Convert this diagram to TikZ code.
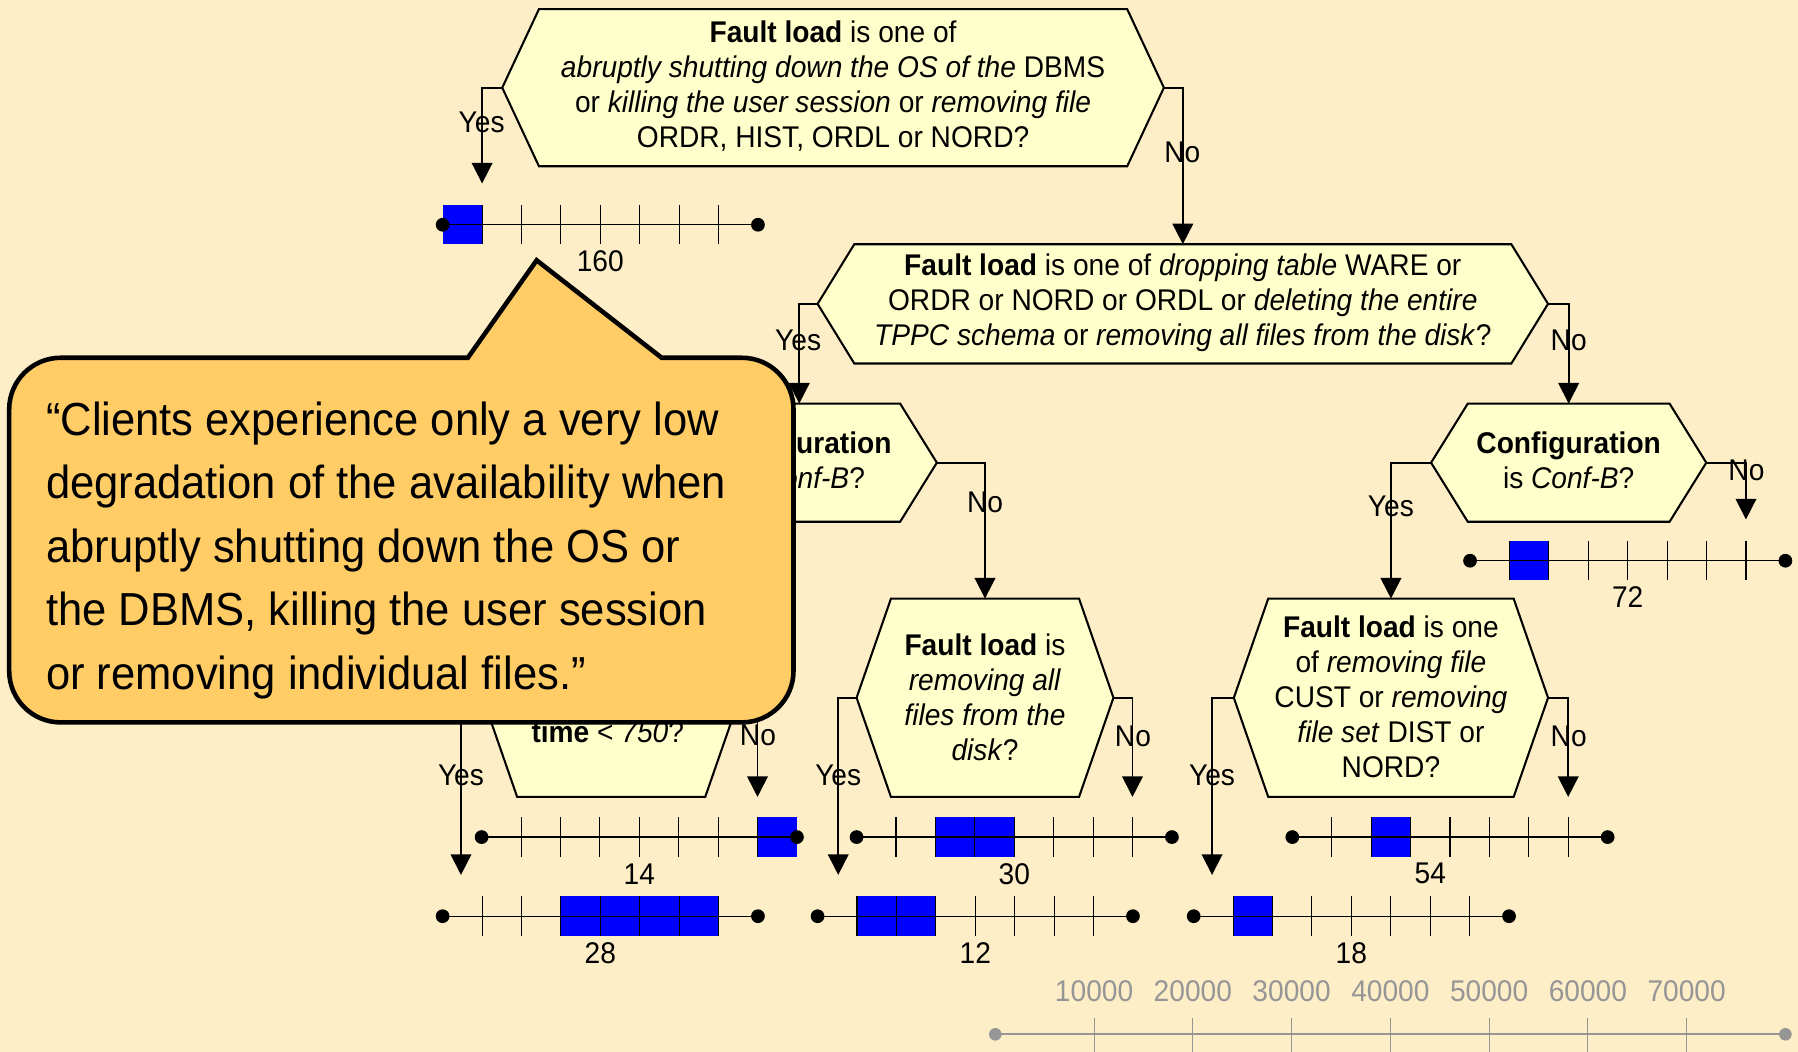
\documentclass[tikz,border=0pt]{standalone}
\usepackage{fontspec}
\setmainfont{Liberation Sans}[FakeStretch=0.94]
\usetikzlibrary{arrows.meta}

\definecolor{paper}{RGB}{254,238,200}
\definecolor{hexfill}{RGB}{255,255,204}
\definecolor{notefill}{RGB}{255,204,102}
\definecolor{barblue}{RGB}{0,0,255}
\definecolor{axisgray}{RGB}{150,150,150}

\tikzset{
  hexline/.style={draw=black, fill=hexfill, line width=1.8pt, line join=miter},
  qtext/.style={align=center, inner sep=0pt, font=\fontsize{26.1}{30.5}\selectfont},
  lbl/.style={inner sep=0pt, font=\fontsize{26.1}{30.5}\selectfont},
  conn/.style={line width=1.6pt, -{Triangle[width=18pt,length=18pt]}},
  barline/.style={line width=1.1pt, black},
  bartick/.style={line width=0.9pt, black},
  axisline/.style={line width=1.5pt, axisgray},
  axistick/.style={line width=0.9pt, axisgray},
  axislbl/.style={inner sep=0pt, text=axisgray, font=\fontsize{26.1}{30.5}\selectfont},
  note/.style={draw=black, fill=notefill, line width=4pt, line join=miter},
  notetext/.style={align=left, inner sep=0pt, font=\fontsize{40.4}{55.3}\selectfont}
}

\def\seg{34.375}

% hexagonal decision box: name, cx, cy, half width (tip), half height, inset
\newcommand\hexshape[6]{%
  \draw[hexline] (#2-#4,#3) -- (#2-#4+#6,#3-#5) -- (#2+#4-#6,#3-#5)
    -- (#2+#4,#3) -- (#2+#4-#6,#3+#5) -- (#2-#4+#6,#3+#5) -- cycle;
  \coordinate (#1-w) at (#2-#4,#3);
  \coordinate (#1-e) at (#2+#4,#3);
  \coordinate (#1-n) at (#2,#3-#5);
}

% scale bar: name, x0, y, blue cells, label, label cell position
\newcommand\scalebar[6]{%
  \begin{scope}[shift={(#2,#3)}]
    \foreach \c in {#4} \fill[barblue] (\c*\seg,-\seg/2) rectangle ++(\seg,\seg);
    \draw[barline] (0,0) -- (8*\seg,0);
    \foreach \k in {1,...,7} \draw[bartick] (\k*\seg,-\seg/2) -- (\k*\seg,\seg/2);
    \fill (0,0) circle (6pt) (8*\seg,0) circle (6pt);
    \node[lbl] (#1) at (#6*\seg,32) {#5};
  \end{scope}}

\begin{document}
\begin{tikzpicture}[x=1pt, y=-1pt]
\useasboundingbox (0,0) rectangle (1568,917);
\fill[paper] (0,0) rectangle (1568,917);

% decision boxes
\hexshape{h1}{726.5}{76.5}{288.5}{68.5}{32}
\hexshape{h2}{1031.5}{265}{318.5}{52}{32}
\hexshape{h3}{697}{403.5}{120}{51.5}{32}
\hexshape{h4}{1368}{403.5}{120}{51.5}{32}
\hexshape{h5}{859}{608.5}{112}{86.5}{30}
\hexshape{h6}{533}{608.5}{112}{86.5}{30}
\hexshape{h7}{1213}{608.5}{137}{86.5}{30}

\node[qtext] (q1) at (726.5,75) {\textbf{Fault load} is one of\\
  \textit{abruptly shutting down the OS of the} DBMS\\
  or \textit{killing the user session} or \textit{removing file}\\
  ORDR, HIST, ORDL or NORD?};
\node[qtext] (q2) at (1031.5,264) {\textbf{Fault load} is one of \textit{dropping table} WARE or\\
  ORDR or NORD or ORDL or \textit{deleting the entire}\\
  \textit{TPPC schema} or \textit{removing all files from the disk}?};
\node[qtext] (q3) at (697,401) {\textbf{Configuration}\\is \textit{Conf-B}?};
\node[qtext] (q4) at (1368,401) {\textbf{Configuration}\\is \textit{Conf-B}?};
\node[qtext] (q5) at (859,608) {\textbf{Fault load} is\\\textit{removing all}\\\textit{files from the}\\\textit{disk}?};
\node[qtext] (q6) at (530,638) {\textbf{time} < \textit{750}?};
\node[qtext] (q7) at (1213,608) {\textbf{Fault load} is one\\of \textit{removing file}\\CUST or \textit{removing}\\\textit{file set} DIST or\\NORD?};

% scale bars
\scalebar{n160}{386}{196}{0}{160}{4}
\scalebar{n72}{1282}{489}{1}{72}{4}
\scalebar{n14}{420}{730}{7}{14}{4}
\scalebar{n30}{747}{730}{2,3}{30}{4}
\scalebar{n54}{1127}{730}{2}{54}{3.5}
\scalebar{n28}{386}{799}{3,4,5,6}{28}{4}
\scalebar{n12}{713}{799}{1,2}{12}{4}
\scalebar{n18}{1041}{799}{1}{18}{4}

% arrow targets above the scale bars
\coordinate (t160) at (420.4,160);
\coordinate (t72) at (1522.6,453);
\coordinate (t14) at (660.6,695);
\coordinate (t30) at (987.6,695);
\coordinate (t54) at (1367.6,695);
\coordinate (t28) at (402,763);
\coordinate (t12) at (731,763);
\coordinate (t18) at (1057,763);

% branches
\draw[conn] (h1-w) -| (t160);
\draw[conn] (h1-e) -| (h2-n);
\draw[conn] (h2-w) -| (h3-n);
\draw[conn] (h2-e) -| (h4-n);
\draw[conn] (h3-w) -| (h6-n);
\draw[conn] (h3-e) -| (h5-n);
\draw[conn] (h4-w) -| (h7-n);
\draw[conn] (h4-e) -| (t72);
\draw[conn] (h5-w) -| (t12);
\draw[conn] (h5-e) -| (t30);
\draw[conn] (h6-w) -| (t28);
\draw[conn] (h6-e) -| (t14);
\draw[conn] (h7-w) -| (t18);
\draw[conn] (h7-e) -| (t54);

\node[lbl] (y1) at (420,107) {Yes};
\node[lbl] (n1) at (1031,133) {No};
\node[lbl] (y2) at (696,297) {Yes};
\node[lbl] (n2) at (1368,297) {No};
\node[lbl] (n3) at (859,438) {No};
\node[lbl] (y4) at (1213,442) {Yes};
\node[lbl] (n4) at (1523,410) {No};
\node[lbl] (y5) at (731,676) {Yes};
\node[lbl] (n5) at (988,642) {No};
\node[lbl] (y6) at (402,676) {Yes};
\node[lbl] (n6) at (661,641) {No};
\node[lbl] (y7) at (1057,676) {Yes};
\node[lbl] (n7) at (1368,642) {No};

% time axis
\draw[axisline] (868,902) -- (1557,902);
\fill[axisgray] (868,902) circle (5.5pt) (1557,902) circle (5.5pt);
\foreach \k/\v in {1/10000,2/20000,3/30000,4/40000,5/50000,6/60000,7/70000} {
  \draw[axistick] (868+\k*86.125,888) -- (868+\k*86.125,917);
  \node[axislbl] (ax\k) at (868+\k*86.125,864) {\v};
}

% speech bubble
\draw[note] (300,312) -- (408,312) -- (468,227) -- (577,312) -- (600,312)
  [rounded corners=45pt] -- (692,312) -- (692,630) -- (8,630) -- (8,312) -- cycle;
\node[notetext, anchor=west] (quote) at (40,480) {“Clients experience only a very low\\
  degradation of the availability when\\
  abruptly shutting down the OS or\\
  the DBMS, killing the user session\\
  or removing individual files.”};
\end{tikzpicture}
\end{document}
